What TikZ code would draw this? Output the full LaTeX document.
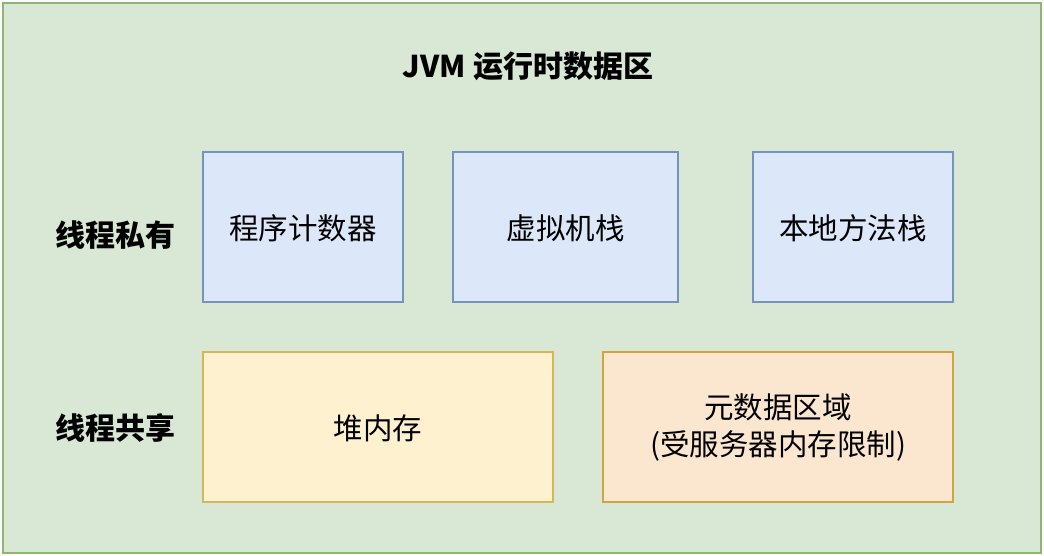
\documentclass[tikz,border=0pt]{standalone}
\usepackage{fontspec}
\setmainfont{Noto Sans CJK SC}
\definecolor{gfill}{HTML}{D9E7D5}
\definecolor{gline}{HTML}{8DB671}
\definecolor{bfill}{HTML}{DCE7F9}
\definecolor{bline}{HTML}{7393C3}
\definecolor{yfill}{HTML}{FEF1D0}
\definecolor{yline}{HTML}{D6B656}
\definecolor{ofill}{HTML}{FBE6D0}
\definecolor{oline}{HTML}{D4A340}
\tikzset{
  txt/.style={font=\fontsize{29.5}{37}\selectfont, align=center, inner sep=0pt},
  bold/.style={txt, font=\fontsize{30}{37}\selectfont\bfseries},
  bluebox/.style={draw=bline, fill=bfill, line width=2pt},
  yelbox/.style={draw=yline, fill=yfill, line width=2pt},
  orbox/.style={draw=oline, fill=ofill, line width=2pt},
}
\begin{document}
\begin{tikzpicture}[x=1pt,y=-1pt]
\useasboundingbox (0,0) rectangle (1044,556);
\draw[draw=gline, fill=gfill, line width=2.5pt] (3,3) rectangle (1041,553);
\node[bold] (title) at (528,66) {JVM 运行时数据区};
\node[bold] (lp) at (115,235) {线程私有};
\node[bold] (ls) at (115,428) {线程共享};
\draw[bluebox] (203,152) rectangle (403,302);
\node[txt] (pc) at (303,228) {程序计数器};
\draw[bluebox] (453,152) rectangle (678,302);
\node[txt] (vm) at (565.5,228) {虚拟机栈};
\draw[bluebox] (753,152) rectangle (953,302);
\node[txt] (ns) at (853,228) {本地方法栈};
\draw[yelbox] (203,352) rectangle (553,502);
\node[txt] (heap) at (378,428) {堆内存};
\draw[orbox] (603,352) rectangle (953,502);
\node[txt] (meta) at (778,427) {元数据区域\\(受服务器内存限制)};
\end{tikzpicture}
\end{document}
